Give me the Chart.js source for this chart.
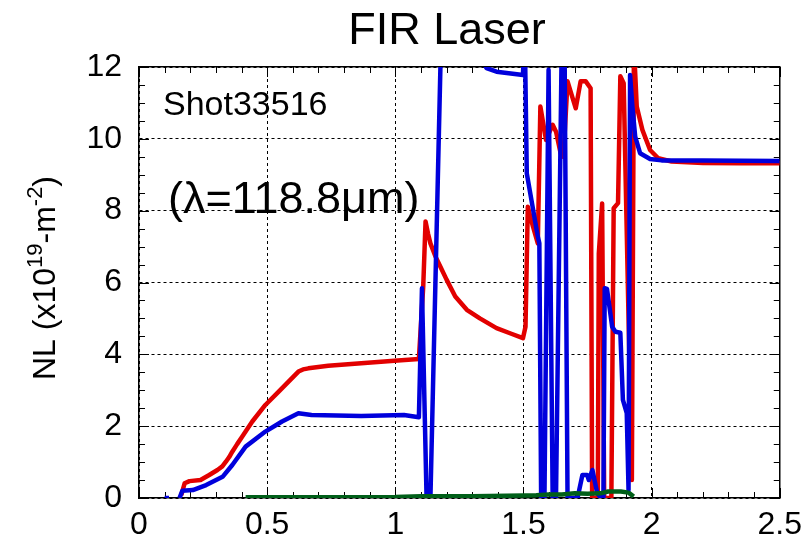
<!DOCTYPE html>
<html>
<head>
<meta charset="utf-8">
<script src="https://cdn.jsdelivr.net/npm/chart.js@4.4.1/dist/chart.umd.min.js"></script>
<style>
  html, body { margin: 0; padding: 0; background: #fff; }
</style>
</head>
<body>
<canvas id="myChart" width="810" height="536"></canvas>
<script>
// data (time in s, NL in 1e19 m^-2)
var redX = [0.165, 0.178, 0.197, 0.240, 0.274, 0.306, 0.325, 0.339, 0.352, 0.364, 0.383, 0.403, 0.442, 0.493, 0.545, 0.596, 0.622, 0.640,
    0.661, 0.738, 0.867, 0.996, 1.092,
    1.109, 1.118, 1.128, 1.137, 1.157, 1.176, 1.200, 1.234, 1.279, 1.330, 1.395, 1.450, 1.498, 1.508, 1.517, 1.537, 1.556, 1.566, 1.588,
    1.614, 1.627, 1.645, 1.656,
    1.672, 1.704, 1.723, 1.743, 1.762, 1.768, 1.790, 1.794, 1.807, 1.815, 1.843, 1.852, 1.869, 1.878, 1.891, 1.923, 1.931, 1.942, 1.964, 1.994,
    2.026, 2.078, 2.200, 2.350, 2.500];
var redY = [0.08, 0.41, 0.47, 0.50, 0.64, 0.78, 0.88, 1.01, 1.14, 1.29, 1.50, 1.71, 2.13, 2.59, 2.96, 3.33, 3.52, 3.58,
    3.61, 3.68, 3.75, 3.82, 3.87,
    5.89, 7.70, 7.35, 7.09, 6.72, 6.44, 6.08, 5.61, 5.24, 5.00, 4.73, 4.58, 4.45, 4.77, 8.11, 7.56, 7.09, 10.90, 9.97,
    10.39, 10.20, 9.60, 9.50,
    11.60, 10.85, 11.60, 11.60, 11.41, 0.00, 0.00, 6.80, 8.20, 0.00, 0.00, 8.07, 8.21, 11.74, 11.55, 0.50, 12.60, 10.90, 10.25, 9.69,
    9.46, 9.37, 9.33, 9.32, 9.32];

var blueX = [0.100, 0.117, 0.130, 0.158, 0.169, 0.210, 0.262, 0.326, 0.364, 0.416, 0.493, 0.558, 0.622, 0.673, 0.867, 1.034, 1.092,
    1.104, 1.122, 1.137, 1.190, 1.330, 1.356, 1.395, 1.498, 1.505, 1.513, 1.556, 1.562, 1.569, 1.582, 1.598, 1.614, 1.627, 1.650, 1.660,
    1.672, 1.711, 1.730, 1.749, 1.755, 1.769, 1.788, 1.803, 1.812, 1.817, 1.826, 1.846, 1.859, 1.878, 1.888, 1.903, 1.910, 1.916, 1.925,
    1.936, 1.955, 1.994, 2.039, 2.200, 2.350, 2.500];
var blueY = [0.00, 0.00, null, 0.00, 0.20, 0.22, 0.36, 0.59, 0.92, 1.43, 1.85, 2.13, 2.36, 2.31, 2.28, 2.31, 2.25,
    5.84, 0.00, 0.00, 16.3, 12.30, 11.97, 11.87, 11.78, 13.00, 9.04, 7.28, 7.09, 0.00, 0.00, 11.92, 0.00, 0.00, 13.00, 13.00,
    0.00, 0.00, 0.64, 0.64, 0.50, 0.78, 0.13, 0.00, 0.00, 5.84, 5.82, 4.77, 4.63, 4.60, 2.73, 2.36, 0.22, 11.78, 10.90,
    10.06, 9.60, 9.44, 9.40, 9.40, 9.39, 9.38];

var greenX = [0.416, 0.700, 1.000, 1.100, 1.300, 1.500, 1.550, 1.600, 1.650, 1.700, 1.750, 1.800, 1.830, 1.880, 1.910, 1.930];
var greenY = [0.02, 0.02, 0.03, 0.05, 0.05, 0.07, 0.08, 0.10, 0.10, 0.13, 0.12, 0.13, 0.18, 0.18, 0.15, 0.04];

var xTicks = [0, 0.5, 1, 1.5, 2, 2.5];
var xTickLabels = ['0', '0.5', '1', '1.5', '2', '2.5'];
var yTicks = [0, 2, 4, 6, 8, 10, 12];

var FONT = '"Liberation Sans", Arial, sans-serif';

function pts(xs, ys) {
    return xs.map(function (x, i) { return { x: x, y: ys[i] }; });
}

// inward minor/major tick marks on all four sides
var tickMarks = {
    id: 'tickMarks',
    beforeDatasetsDraw: function (chart) {
        var ctx = chart.ctx, a = chart.chartArea;
        var xs = chart.scales.x, ys = chart.scales.y;
        ctx.save();
        ctx.strokeStyle = '#000';
        ctx.lineWidth = 1;
        ctx.beginPath();
        for (var i = 0; i <= 25; i++) {
            var px = Math.round(xs.getPixelForValue(i / 10)) + 0.5;
            var len = i % 5 === 0 ? 10 : 6;
            ctx.moveTo(px, a.bottom); ctx.lineTo(px, a.bottom - len);
            ctx.moveTo(px, a.top); ctx.lineTo(px, a.top + len);
        }
        for (var j = 0; j <= 24; j++) {
            var py = Math.round(ys.getPixelForValue(j / 2)) + 0.5;
            var l2 = j % 4 === 0 ? 10 : 6;
            ctx.moveTo(a.left, py); ctx.lineTo(a.left + l2, py);
            ctx.moveTo(a.right, py); ctx.lineTo(a.right - l2, py);
        }
        ctx.stroke();
        ctx.restore();
    }
};

// title, notes and the y axis label with superscripts
var labels = {
    id: 'labels',
    afterDraw: function (chart) {
        var ctx = chart.ctx;
        ctx.save();
        ctx.fillStyle = '#000';
        ctx.textBaseline = 'alphabetic';
        ctx.textAlign = 'center';
        ctx.font = '45px ' + FONT;
        ctx.fillText('FIR Laser', 447, 44);

        ctx.textAlign = 'left';
        ctx.font = '34px ' + FONT;
        ctx.fillText('Shot33516', 163, 115);
        ctx.font = '45px ' + FONT;
        ctx.fillText('(\u03bb=118.8\u03bcm)', 168, 213);

        var parts = [['NL (x10', 32, 0], ['19', 22, -13], ['-m', 32, 0], ['-2', 22, -13], [')', 32, 0]];
        var total = 0;
        parts.forEach(function (p) {
            ctx.font = p[1] + 'px ' + FONT;
            p.push(ctx.measureText(p[0]).width);
            total += p[3];
        });
        ctx.translate(55, 278);
        ctx.rotate(-Math.PI / 2);
        var cx = -total / 2;
        parts.forEach(function (p) {
            ctx.font = p[1] + 'px ' + FONT;
            ctx.fillText(p[0], cx, p[2]);
            cx += p[3];
        });
        ctx.restore();
    }
};

var tickFont = { family: FONT, size: 32 };
var gridOpts = { color: '#000', lineWidth: 1, drawTicks: false };
var borderOpts = { display: true, color: '#000', width: 1.5, dash: [3, 3] };

var ctx = document.getElementById('myChart').getContext('2d');
var myChart = new Chart(ctx, {
    type: 'line',
    data: {
        datasets: [
            {
                label: 'green',
                data: pts(greenX, greenY),
                borderColor: 'rgb(0, 95, 25)',
                borderWidth: 4.5,
                order: 0
            },
            {
                label: 'blue',
                data: pts(blueX, blueY),
                borderColor: 'rgb(0, 0, 220)',
                borderWidth: 4.5,
                order: 1
            },
            {
                label: 'red',
                data: pts(redX, redY),
                borderColor: 'rgb(226, 0, 0)',
                borderWidth: 4.5,
                order: 2
            }
        ]
    },
    options: {
        responsive: false,
        animation: false,
        devicePixelRatio: 1,
        layout: { padding: { top: 67, right: 24, bottom: 0, left: 0 } },
        elements: {
            point: { radius: 0 },
            line: { tension: 0, fill: false, borderJoinStyle: 'round' }
        },
        datasets: { line: { clip: 0, spanGaps: false } },
        plugins: {
            legend: { display: false },
            tooltip: { enabled: false },
            title: { display: false }
        },
        scales: {
            x: {
                type: 'linear', position: 'bottom', min: 0, max: 2.5,
                afterBuildTicks: function (s) { s.ticks = xTicks.map(function (v) { return { value: v }; }); },
                ticks: {
                    color: '#000', font: tickFont, padding: 8, maxRotation: 0, autoSkip: false,
                    callback: function (v) { return xTickLabels[xTicks.indexOf(v)]; }
                },
                grid: gridOpts,
                border: borderOpts,
                afterFit: function (s) { s.height = 38; }
            },
            y: {
                type: 'linear', position: 'left', min: 0, max: 12,
                afterBuildTicks: function (s) { s.ticks = yTicks.map(function (v) { return { value: v }; }); },
                ticks: { color: '#000', font: tickFont, padding: 17 },
                grid: gridOpts,
                border: borderOpts,
                afterFit: function (s) { s.width = 139; }
            },
            x2: {
                type: 'linear', position: 'top', min: 0, max: 2.5,
                ticks: { display: false },
                grid: { display: false, drawTicks: false },
                border: { display: true, color: '#000', width: 1.5 },
                afterFit: function (s) { s.height = 0; }
            },
            y2: {
                type: 'linear', position: 'right', min: 0, max: 12,
                ticks: { display: false },
                grid: { display: false, drawTicks: false },
                border: { display: true, color: '#000', width: 1.5 },
                afterFit: function (s) { s.width = 0; }
            }
        }
    },
    plugins: [tickMarks, labels]
});
</script>
</body>
</html>
